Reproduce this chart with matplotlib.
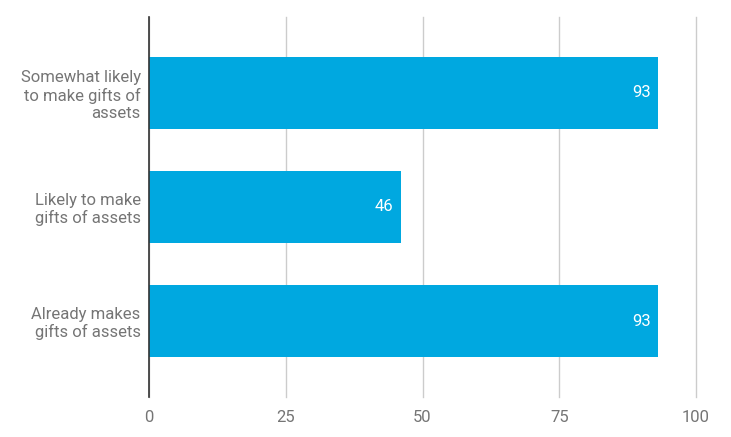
import matplotlib
matplotlib.use('Agg')
from matplotlib import pyplot as plt

plt.rcParams['font.family'] = ['Roboto', 'DejaVu Sans']

categories = ['Already makes\ngifts of assets',
              'Likely to make\ngifts of assets',
              'Somewhat likely\nto make gifts of\nassets']
values = [93, 46, 93]
x_ticks = [0, 25, 50, 75, 100]

fig = plt.figure(figsize=(7.31, 4.37), dpi=100)
ax = fig.add_axes([149/731, 1 - 397/437, (696 - 149)/731, 380/437])

ypos = list(range(len(categories)))
bars = ax.barh(ypos, values, height=0.63, color='#00a8e0', zorder=3)

for y, v in zip(ypos, values):
    ax.text(v - 1.3, y, str(v), color='white', fontsize=12,
            ha='right', va='center', zorder=4)

ax.set_xlim(0, 100)
ax.set_ylim(-0.665, 2.665)
ax.set_xticks(x_ticks)
ax.set_xticklabels([str(t) for t in x_ticks])
ax.set_yticks(ypos)
ax.set_yticklabels(categories, ha='right', linespacing=1.17)

ax.grid(axis='x', color='#cccccc', linewidth=1, zorder=0)
for gl in ax.get_xgridlines():
    gl.set_clip_on(False)
for s in ['top', 'right', 'bottom']:
    ax.spines[s].set_visible(False)
ax.spines['left'].set_color('#333333')
ax.spines['left'].set_linewidth(1.2)
ax.spines['left'].set_zorder(5)

ax.tick_params(axis='both', length=0, labelsize=12, labelcolor='#757575')
ax.tick_params(axis='x', pad=9)
ax.tick_params(axis='y', pad=6)

fig.savefig('out.png', dpi=100)
